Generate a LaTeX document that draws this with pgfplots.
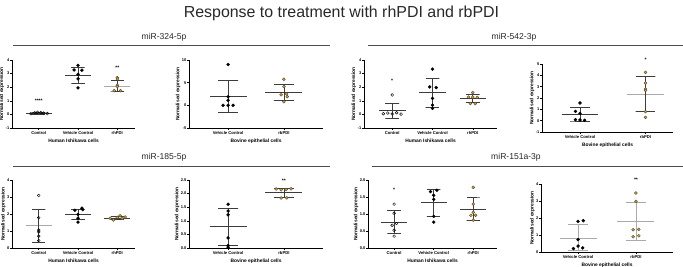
\documentclass[border=0pt]{standalone}
\usepackage{fontspec}
\setmainfont{Liberation Sans}
\usepackage{pgfplots}
\pgfplotsset{compat=1.18}
\definecolor{orP}{RGB}{224,162,28}
\definecolor{dk}{RGB}{60,60,60}
\definecolor{lt}{RGB}{170,170,170}
\definecolor{ttl}{RGB}{40,40,40}
\pgfplotsset{
 prism/.style={scale only axis, height=68bp, axis x line*=bottom, axis y line*=left,
   axis line style={line width=0.6bp,black,-}, tick style={line width=0.5bp,black},
   tick align=outside, major tick length=1.6bp,
   xtick={0,1,2}, clip=false,
   yticklabel style={font=\fontsize{4}{4.5}\selectfont\bfseries, inner sep=0.8bp},
   xticklabel style={font=\fontsize{4.2}{5}\selectfont\bfseries, inner sep=2bp},
   label style={font=\fontsize{4.9}{6}\selectfont\bfseries},
   ylabel={Normalised expression}, ylabel style={inner sep=0.6bp},
   xlabel style={inner sep=0.8bp, yshift=-1.2bp},
   /pgf/number format/assume math mode=true,
 },
 human/.style={prism, xticklabels={Control,Vehicle Control,rhPDI}, xlabel={Human Ishikawa cells}},
 bovine/.style={prism, xtick={0,1}, xticklabels={Vehicle Control,rbPDI}, xlabel={Bovine epithelial cells}},
 onedec/.style={yticklabel style={/pgf/number format/fixed, /pgf/number format/fixed zerofill, /pgf/number format/precision=1}},
 blk/.style={only marks, mark=*, mark size=1.5bp, mark options={fill=black, draw=black}},
 hol/.style={only marks, mark=o, mark size=1.4bp, mark options={draw=black, fill=white, line width=0.45bp}},
 org/.style={only marks, mark=*, mark size=1.5bp, mark options={fill=orP, draw=black!75, line width=0.35bp}},
 eb/.style={no marks, line width=0.65bp, dk},
 ebl/.style={no marks, line width=0.65bp, lt},
}
\newcommand{\sig}[3]{\node[font=\fontsize{5}{5}\selectfont\bfseries, inner sep=0pt] at (axis cs:#1,#2) {#3};}
\begin{document}
\begin{tikzpicture}
\useasboundingbox (0bp,0bp) rectangle (683bp,267bp);
\node[font=\fontsize{16}{18}\selectfont, text=ttl] at (341.5bp,254bp) {Response to treatment with rhPDI and rbPDI};
\node[font=\fontsize{8.6}{10}\selectfont, text=ttl] at (164bp,230bp) {miR-324-5p};
\node[font=\fontsize{8.6}{10}\selectfont, text=ttl] at (514bp,230bp) {miR-542-3p};
\node[font=\fontsize{8.6}{10}\selectfont, text=ttl] at (164bp,110bp) {miR-185-5p};
\node[font=\fontsize{8.6}{10}\selectfont, text=ttl] at (516bp,110bp) {miR-151a-3p};
\draw[line width=0.7bp, black!70] (13bp,222bp) -- (330bp,222bp);
\draw[line width=0.7bp, black!70] (368bp,222bp) -- (683bp,222bp);
\draw[line width=0.7bp, black!70] (13bp,101bp) -- (330bp,101bp);
\draw[line width=0.7bp, black!70] (372bp,101bp) -- (683bp,101bp);

% ---------- A1 miR-324-5p human
\begin{axis}[human, at={(12bp,139bp)}, anchor=south west, width=123bp, xmin=-0.68, xmax=2.45, ymin=-1, ymax=4, ytick={-1,0,1,2,3,4}]
\addplot[eb] coordinates {(-0.33,0.10)(0.33,0.10)};
\addplot[eb] coordinates {(-0.17,0.16)(0.17,0.16)(0,0.16)(0,0.04)(-0.17,0.04)(0.17,0.04)};
\addplot[eb] coordinates {(0.67,2.9)(1.33,2.9)};
\addplot[eb] coordinates {(0.83,3.46)(1.17,3.46)(1,3.46)(1,2.32)(0.83,2.32)(1.17,2.32)};
\addplot[ebl] coordinates {(1.67,2.1)(2.33,2.1)};
\addplot[eb] coordinates {(1.83,2.54)(2.17,2.54)(2,2.54)(2,1.72)(1.83,1.72)(2.17,1.72)};
\addplot[hol] coordinates {(-0.2,0.05)(-0.1,0.12)(-0.03,0.15)(0.05,0.13)(0.12,0.1)(0.22,0.06)};
\addplot[blk] coordinates {(1,3.6)(0.9,3.27)(1.1,3.25)(1,2.95)(1,2.62)(1,1.95)};
\addplot[org] coordinates {(2,2.7)(2,2.6)(2,2.15)(2,2.05)(1.92,1.75)(2.08,1.75)};
\sig{0}{1.0}{****}
\sig{2}{3.4}{**}
\end{axis}

% ---------- A2 miR-324-5p bovine
\begin{axis}[bovine, at={(189bp,139bp)}, anchor=south west, width=134bp, xmin=-0.7, xmax=1.7, ymin=-5, ymax=10, ytick={-5,0,5,10}]
\addplot[eb] coordinates {(-0.33,1.95)(0.33,1.95)};
\addplot[eb] coordinates {(-0.18,5.45)(0.18,5.45)(0,5.45)(0,-1.5)(-0.18,-1.5)(0.18,-1.5)};
\addplot[eb] coordinates {(0.67,2.87)(1.33,2.87)};
\addplot[eb] coordinates {(0.82,4.65)(1.18,4.65)(1,4.65)(1,1.1)(0.82,1.1)(1.18,1.1)};
\addplot[blk] coordinates {(0,9.0)(0,1.9)(0,1.1)(-0.09,0)(0,0)(0.09,0)};
\addplot[org] coordinates {(1,5.77)(1,4.13)(1.05,2.5)(0.95,2.35)(1.06,1.9)(1,0.8)};
\end{axis}

% ---------- B1 miR-542-3p human
\begin{axis}[human, at={(364bp,139bp)}, anchor=south west, width=133bp, xmin=-0.7, xmax=2.6, ymin=-1, ymax=4, ytick={-1,0,1,2,3,4}]
\addplot[eb] coordinates {(-0.33,0.29)(0.33,0.29)};
\addplot[eb] coordinates {(-0.17,0.82)(0.17,0.82)(0,0.82)(0,-0.26)(-0.17,-0.26)(0.17,-0.26)};
\addplot[eb] coordinates {(0.67,1.62)(1.33,1.62)};
\addplot[eb] coordinates {(0.83,2.66)(1.17,2.66)(1,2.66)(1,0.53)(0.83,0.53)(1.17,0.53)};
\addplot[eb] coordinates {(1.67,1.18)(2.33,1.18)};
\addplot[eb] coordinates {(1.83,1.45)(2.17,1.45)(2,1.45)(2,0.88)(1.83,0.88)(2.17,0.88)};
\addplot[hol] coordinates {(0,1.43)(-0.22,0.05)(-0.11,0.1)(0,0.03)(0.11,0.12)(0.22,0.02)};
\addplot[blk] coordinates {(1,3.33)(0.93,2.02)(1.09,1.97)(1,1.18)(1,0.68)(1,0.44)};
\addplot[org] coordinates {(2,1.6)(1.89,1.27)(2,1.27)(2.11,1.25)(1.94,0.8)(2.06,0.8)};
\sig{0}{2.47}{*}
\end{axis}

% ---------- B2 miR-542-3p bovine
\begin{axis}[bovine, at={(542bp,135bp)}, anchor=south west, width=131bp, xmin=-0.58, xmax=1.42, ymin=-1, ymax=5, ytick={-1,0,1,2,3,4,5}]
\addplot[eb] coordinates {(-0.28,0.53)(0.28,0.53)};
\addplot[eb] coordinates {(-0.15,1.15)(0.15,1.15)(0,1.15)(0,-0.03)(-0.15,-0.03)(0.15,-0.03)};
\addplot[ebl] coordinates {(0.72,2.35)(1.28,2.35)};
\addplot[eb] coordinates {(0.85,3.87)(1.15,3.87)(1,3.87)(1,0.8)(0.85,0.8)(1.15,0.8)};
\addplot[blk] coordinates {(0,1.56)(-0.07,0.82)(0,0.65)(-0.07,0.09)(0,0.06)(0.07,0.03)};
\addplot[org] coordinates {(1,4.26)(1,3.32)(1,2.79)(1,2.68)(1,0.8)(1,0.3)};
\sig{1}{5.41}{*}
\end{axis}

% ---------- C1 miR-185-5p human
\begin{axis}[human, at={(12bp,19bp)}, anchor=south west, width=123bp, xmin=-0.68, xmax=2.45, ymin=0, ymax=4, ytick={0,1,2,3,4}]
\addplot[ebl] coordinates {(-0.33,1.33)(0.33,1.33)};
\addplot[eb] coordinates {(-0.17,2.3)(0.17,2.3)(0,2.3)(0,0.35)(-0.17,0.35)(0.17,0.35)};
\addplot[eb] coordinates {(0.67,1.98)(1.33,1.98)};
\addplot[eb] coordinates {(0.83,2.3)(1.17,2.3)(1,2.3)(1,1.68)(0.83,1.68)(1.17,1.68)};
\addplot[eb] coordinates {(1.67,1.76)(2.33,1.76)};
\addplot[eb] coordinates {(1.83,1.86)(2.17,1.86)(2,1.86)(2,1.66)(1.83,1.66)(2.17,1.66)};
\addplot[hol] coordinates {(0,3.09)(0,1.78)(0,1.05)(0,0.95)(0,0.7)(0,0.44)};
\addplot[blk] coordinates {(1.1,2.34)(1.12,2.26)(0.92,2.22)(1,1.98)(1,1.75)(1,1.52)};
\addplot[org] coordinates {(1.82,1.75)(1.9,1.65)(2,1.8)(2.07,1.9)(2.12,1.75)(2.2,1.82)};
\end{axis}

% ---------- C2 miR-185-5p bovine
\begin{axis}[bovine, onedec, at={(189bp,19bp)}, anchor=south west, width=134bp, xmin=-0.7, xmax=1.7, ymin=0, ymax=2.5, ytick={0,0.5,1,1.5,2,2.5}]
\addplot[eb] coordinates {(-0.33,0.78)(0.33,0.78)};
\addplot[eb] coordinates {(-0.18,1.47)(0.18,1.47)(0,1.47)(0,0.08)(-0.18,0.08)(0.18,0.08)};
\addplot[eb] coordinates {(0.67,2.03)(1.33,2.03)};
\addplot[eb] coordinates {(0.82,2.2)(1.18,2.2)(1,2.2)(1,1.88)(0.82,1.88)(1.18,1.88)};
\addplot[blk] coordinates {(0,1.61)(0,1.36)(0,1.22)(0,0.37)(0,0.09)(0,0.03)};
\addplot[org] coordinates {(0.86,2.17)(0.95,2.14)(1.04,2.15)(1.13,2.18)(0.95,1.84)(1.05,1.84)};
\sig{1}{2.48}{**}
\end{axis}

% ---------- D1 miR-151a-3p human
\begin{axis}[human, onedec, at={(368bp,19bp)}, anchor=south west, width=129bp, xmin=-0.66, xmax=2.6, ymin=0, ymax=2, ytick={0,0.5,1,1.5,2}]
\addplot[eb] coordinates {(-0.33,0.76)(0.33,0.76)};
\addplot[eb] coordinates {(-0.17,1.1)(0.17,1.1)(0,1.1)(0,0.42)(-0.17,0.42)(0.17,0.42)};
\addplot[eb] coordinates {(0.67,1.33)(1.33,1.33)};
\addplot[eb] coordinates {(0.83,1.72)(1.17,1.72)(1,1.72)(1,0.94)(0.83,0.94)(1.17,0.94)};
\addplot[eb] coordinates {(1.67,1.15)(2.33,1.15)};
\addplot[eb] coordinates {(1.83,1.5)(2.17,1.5)(2,1.5)(2,0.8)(1.83,0.8)(2.17,0.8)};
\addplot[hol] coordinates {(0,1.29)(0,1.02)(0.06,0.72)(-0.05,0.67)(0,0.52)(0,0.35)};
\addplot[blk] coordinates {(1.08,1.70)(0.92,1.66)(1,1.55)(1,1.43)(1,0.93)(1,0.76)};
\addplot[org] coordinates {(2,1.78)(2,1.29)(2,1.05)(1.94,0.96)(2.06,0.96)(2,0.82)};
\sig{0}{1.7}{*}
\end{axis}

% ---------- D2 miR-151a-3p bovine
\begin{axis}[bovine, at={(541bp,15bp)}, anchor=south west, width=132bp, xmin=-0.64, xmax=1.64, ymin=0, ymax=4, ytick={0,1,2,3,4}]
\addplot[ebl] coordinates {(-0.32,0.82)(0.32,0.82)};
\addplot[ebl] coordinates {(-0.17,1.65)(0.17,1.65)(0,1.65)(0,0.12)(-0.17,0.12)(0.17,0.12)};
\addplot[ebl] coordinates {(0.68,1.82)(1.32,1.82)};
\addplot[ebl] coordinates {(0.83,2.94)(1.17,2.94)(1,2.94)(1,0.71)(0.83,0.71)(1.17,0.71)};
\addplot[blk] coordinates {(0,1.80)(0.09,1.84)(0,0.73)(0,0.35)(-0.08,0.2)(0.08,0.24)};
\addplot[org] coordinates {(1,3.47)(1,2.98)(0.95,1.31)(1.05,1.33)(0.95,0.9)(1.05,0.95)};
\sig{1}{4.24}{**}
\end{axis}
\end{tikzpicture}
\end{document}
